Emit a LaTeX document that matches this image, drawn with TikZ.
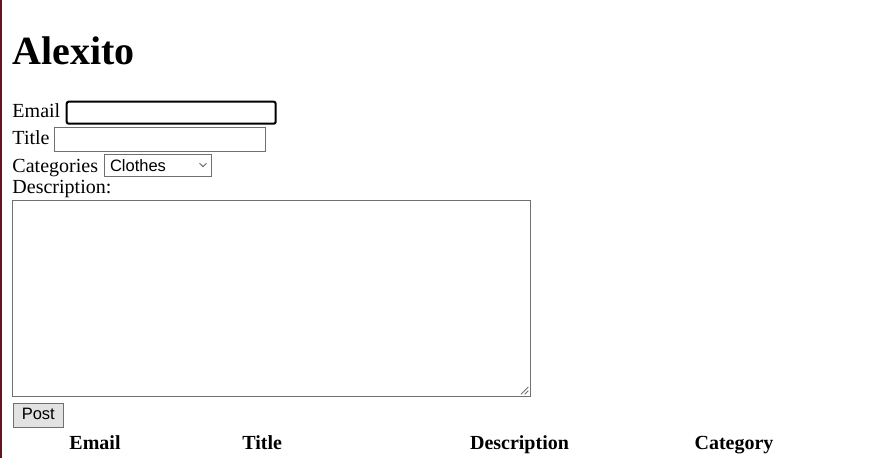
\documentclass[tikz,border=0pt]{standalone}
\usepackage{fontspec}
\setmainfont{Liberation Serif}
\newfontfamily\arialfont{Liberation Sans}
\definecolor{edgered}{RGB}{100,22,32}
\definecolor{ctrlgray}{RGB}{112,112,112}
\definecolor{btnfill}{RGB}{226,226,226}
\tikzset{
  lbl/.style={anchor=base west, inner sep=0pt, outer sep=0pt, font=\fontsize{20}{24}\selectfont},
  hdr/.style={anchor=base, inner sep=0pt, outer sep=0pt, font=\fontsize{20}{24}\selectfont\bfseries},
  ctrl/.style={draw=ctrlgray, line width=1pt},
  focusbox/.style={draw=black, line width=2pt, rounded corners=2pt},
  ctrltext/.style={anchor=base west, inner sep=0pt, outer sep=0pt, font=\arialfont\fontsize{16.5}{20}\selectfont},
}
\begin{document}
\begin{tikzpicture}[x=1pt,y=-1pt]
\useasboundingbox (0,0) rectangle (882,458);
\fill[white] (0,0) rectangle (882,458);
% left edge
\fill[edgered] (0,0) rectangle (2,458);
% heading
\node[anchor=base west, inner sep=0pt, font=\fontsize{40}{48}\selectfont\bfseries] (head) at (12.5,64) {Alexito};
% Email
\node[lbl] (lemail) at (12.5,117.5) {Email};
\draw[focusbox] (66.7,101.7) rectangle (275.7,123.7);
% Title
\node[lbl] (ltitle) at (12.5,144.5) {Title};
\draw[ctrl] (54.5,127.2) rectangle (265.2,151.8);
% Categories
\node[lbl] (lcat) at (12.5,172) {Categories};
\draw[ctrl] (104.2,154.8) rectangle (211.2,176.8);
\node[ctrltext] (clothes) at (110,171.3) {Clothes};
\draw[ctrlgray, line width=1pt] (199.5,163.3) -- (203,166.6) -- (206.5,163.3);
% Description
\node[lbl] (ldesc) at (12.5,193.8) {Description:};
\draw[ctrl] (12.5,200.5) rectangle (530.5,396.5);
\draw[ctrlgray, line width=0.9pt] (521,394.3) -- (528.3,387);
\draw[ctrlgray, line width=0.9pt] (524.6,394.3) -- (528.3,390.6);
% Post button
\node[draw=ctrlgray, line width=1pt, fill=btnfill, anchor=north west, inner sep=0pt, minimum width=50pt, minimum height=24pt] (post) at (12.8,402.8) {};
\node[ctrltext] (posttext) at (21.8,419.5) {Post};
% table header
\node[hdr] (hemail) at (95,449.2) {Email};
\node[hdr] (htitle) at (262.2,449) {Title};
\node[hdr] (hdesc) at (519.5,449) {Description};
\node[hdr] (hcat) at (734,449) {Category};
\end{tikzpicture}
\end{document}
